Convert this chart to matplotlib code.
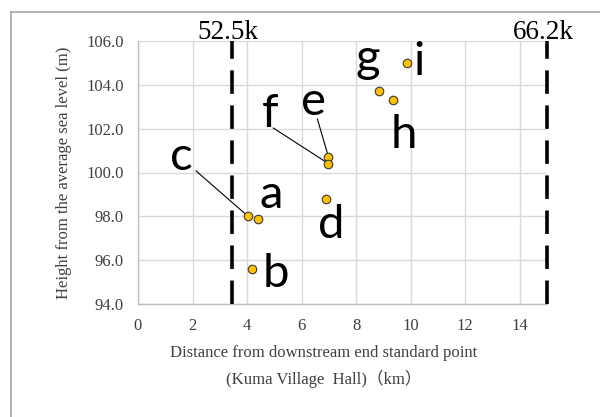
import matplotlib
matplotlib.use("Agg")
import matplotlib.pyplot as plt
from matplotlib.lines import Line2D

# ---- data ----
point_names = ["a", "b", "c", "d", "e", "f", "g", "h", "i"]
distance_km = [4.40, 4.17, 4.02, 6.91, 6.98, 6.98, 8.85, 9.37, 9.85]
height_m = [97.89, 95.58, 98.02, 98.79, 100.73, 100.41, 103.72, 103.32, 104.98]

boundary_x = [3.45, 15.0]
boundary_labels = ["52.5k", "66.2k"]

x_ticks = [0, 2, 4, 6, 8, 10, 12, 14]
y_ticks = [94.0, 96.0, 98.0, 100.0, 102.0, 104.0, 106.0]

# label placement (data coordinates, baseline)
label_x = [4.89, 5.07, 1.58, 7.10, 6.42, 4.84, 8.44, 9.76, 10.31]
label_y = [98.38, 94.78, 100.12, 97.01, 102.62, 102.08, 104.59, 101.12, 104.45]
# leader lines: name -> start point of the line (end at the data point)
leaders = {"c": (2.13, 100.07), "f": (4.96, 102.03), "e": (6.58, 102.44)}

serif = ["Liberation Serif", "Noto Sans CJK JP", "DejaVu Serif"]
plt.rcParams["font.family"] = serif

fig = plt.figure(figsize=(6.0, 4.17), dpi=100)
W, H = 600, 417
ax = fig.add_axes([138 / W, 1 - 304 / H, (547 - 138) / W, (304 - 41) / H])

ax.set_xlim(0, 15)
ax.set_ylim(94, 106)
ax.set_xticks(x_ticks)
ax.set_yticks(y_ticks)
ax.set_xticklabels([str(t) for t in x_ticks])
ax.set_yticklabels([f"{t:.1f}" for t in y_ticks])
ax.tick_params(length=0, labelsize=12, pad=10, colors="#404040")
ax.tick_params(axis="x", labelcolor="#404040")
ax.grid(True, color="#D9D9D9", lw=1.0, zorder=0)
for s in ["top", "right"]:
    ax.spines[s].set_visible(False)
for s in ["left", "bottom"]:
    ax.spines[s].set_color("#BFBFBF")
    ax.spines[s].set_linewidth(1.0)

# boundary dashed lines
for bx, bl in zip(boundary_x, boundary_labels):
    ax.axvline(bx, color="black", lw=2.6, dashes=(6.5, 3.2), zorder=3, clip_on=False)
    ax.text(bx - 0.15, 106.09, bl, ha="center", va="baseline", fontsize=19.5,
            color="black", family=serif, clip_on=False)

# leader lines
for name, (sx, sy) in leaders.items():
    k = point_names.index(name)
    ax.plot([sx, distance_km[k]], [sy, height_m[k]], color="black", lw=0.8, zorder=4)

# points
ax.scatter(distance_km, height_m, s=38, color="#FFC000", edgecolor="#3a3a3a",
           linewidth=0.8, zorder=5, clip_on=False)

# point labels
for name, lx, ly in zip(point_names, label_x, label_y):
    ax.text(lx, ly, name, ha="center", va="baseline", fontsize=34,
            family=["Lato", "DejaVu Sans"], color="black", zorder=6)

# axis labels
ax.set_ylabel("Height from the average sea level (m)", fontsize=12, color="#404040")
ax.yaxis.set_label_coords((72 - 138) / 409, 0.5)
fig.text(324 / W, 1 - 353 / H, "Distance from downstream end standard point",
         ha="center", va="center", fontsize=12, color="#404040")
fig.text(324 / W, 1 - 379 / H, "(Kuma Village  Hall)\uff08km\uff09",
         ha="center", va="center", fontsize=12, color="#404040", family=serif)

# outer chart border
fig.add_artist(Line2D([11 / W, 11 / W], [0, 1 - 12 / H], transform=fig.transFigure,
                      color="#A6A6A6", lw=1.2))
fig.add_artist(Line2D([11 / W, 1], [1 - 12 / H, 1 - 12 / H], transform=fig.transFigure,
                      color="#A6A6A6", lw=1.2))

fig.savefig("out.png", dpi=100)
